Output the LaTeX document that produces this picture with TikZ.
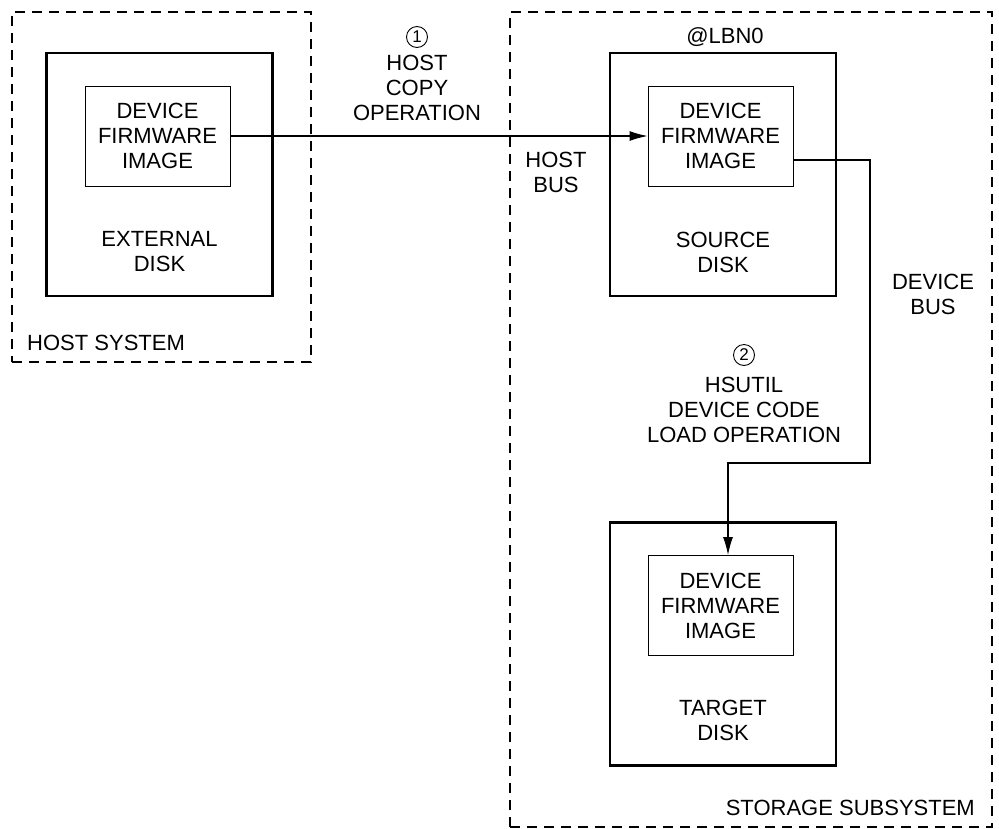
\documentclass[tikz,border=0pt]{standalone}
\usepackage{fontspec}
\setmainfont{Liberation Sans}
\usetikzlibrary{arrows.meta}

\tikzset{
  group/.style={draw, dash pattern=on 10pt off 7pt, line width=1.4pt, inner sep=0pt},
  disk/.style={draw, line width=2.6pt, minimum width=226pt, minimum height=243pt, inner sep=0pt},
  fwbox/.style={draw, line width=1pt, minimum width=145pt, minimum height=100pt, align=center},
  lbl/.style={align=center, inner sep=0pt},
  stepnum/.style={circle, draw, line width=0.9pt, minimum size=21pt, inner sep=0pt, font=\fontsize{17}{17}\selectfont},
  bus/.style={line width=1.1pt, -{Latex[length=18pt,width=10pt]}}
}

\begin{document}
\begin{tikzpicture}[x=1pt, y=-1pt, font=\fontsize{22}{25}\selectfont]
  \useasboundingbox (0,0) rectangle (999,828);

  % subsystems
  \node[group, minimum width=299pt, minimum height=350pt] (host) at (161.5,187) {};
  \node[group, minimum width=482pt, minimum height=815pt] (storage) at (751,419.5) {};
  \node[lbl, anchor=west] (hostlbl) at (27,343) {HOST SYSTEM};
  \node[lbl, anchor=east] (storlbl) at (975,808) {STORAGE SUBSYSTEM};

  % disks
  \node[disk] (ext) at (159.5,174.5) {};
  \node[fwbox] (extfw) at (157.5,136) {DEVICE\\FIRMWARE\\IMAGE};
  \node[lbl] (extlbl) at (159.5,252) {EXTERNAL\\DISK};

  \node[disk] (src) at (723,174.5) {};
  \node[fwbox] (srcfw) at (720.5,136) {DEVICE\\FIRMWARE\\IMAGE};
  \node[lbl] (srclbl) at (723,252) {SOURCE\\DISK};
  \node[lbl] (lbn) at (725,37) {@LBN0};

  \node[disk] (tgt) at (723,644) {};
  \node[fwbox] (tgtfw) at (720.5,605.5) {DEVICE\\FIRMWARE\\IMAGE};
  \node[lbl] (tgtlbl) at (723,720) {TARGET\\DISK};

  % operations
  \node[stepnum] (step1) at (417,37) {1};
  \node[lbl] (op1) at (417,88) {HOST\\COPY\\OPERATION};
  \node[lbl] (hostbus) at (556,172) {HOST\\BUS};
  \node[lbl] (devbus) at (933,294) {DEVICE\\BUS};
  \node[stepnum] (step2) at (744,355) {2};
  \node[lbl] (op2) at (744,410) {HSUTIL\\DEVICE CODE\\LOAD OPERATION};

  \coordinate (bend) at (870,463);
  \draw[bus] (extfw.east) -- (srcfw.west);
  \draw[bus] ([yshift=-24pt]srcfw.east) -| (bend) -| ([xshift=7.5pt]tgtfw.north);
\end{tikzpicture}
\end{document}
